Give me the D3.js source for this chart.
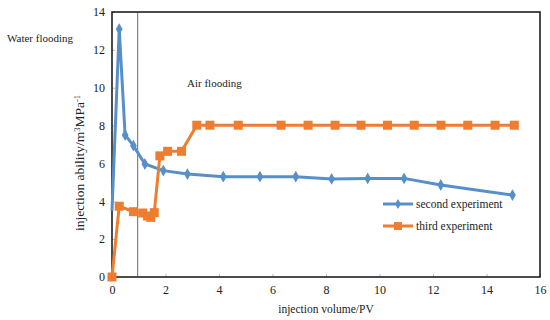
<!DOCTYPE html>
<html>
<head>
<meta charset="utf-8">
<script src="https://cdn.jsdelivr.net/npm/d3@7"></script>
<style>
  body { margin: 0; background: #fff; }
  svg { font-family: "Liberation Serif", "Times New Roman", serif; }
</style>
</head>
<body>
<svg width="550" height="320"></svg>
<script>
// series
var secondX = [0, 0.27, 0.49, 0.8, 1.23, 1.92, 2.82, 4.16, 5.53, 6.87, 8.21, 9.56, 10.92, 12.29, 14.97];
var secondY = [3.5, 13.1, 7.5, 6.94, 5.97, 5.62, 5.44, 5.3, 5.3, 5.3, 5.18, 5.21, 5.21, 4.86, 4.33];
var thirdX = [0, 0.27, 0.8, 1.15, 1.33, 1.45, 1.58, 1.79, 2.08, 2.6, 3.17, 3.66, 4.72, 6.32, 7.33, 8.34, 9.31, 10.3, 11.3, 12.3, 13.3, 14.32, 15.04];
var thirdY = [0, 3.74, 3.45, 3.38, 3.22, 3.15, 3.4, 6.4, 6.64, 6.64, 8.02, 8.02, 8.02, 8.02, 8.02, 8.02, 8.02, 8.02, 8.02, 8.02, 8.02, 8.02, 8.02];
var xTicks = [0, 2, 4, 6, 8, 10, 12, 14, 16];
var yTicks = [0, 2, 4, 6, 8, 10, 12, 14];
var seriesNames = ["second experiment", "third experiment"];
var boundaryX = 0.96;

var margin = {top: 12, right: 10, bottom: 43, left: 112},
    width = 540 - margin.left,
    height = 277 - margin.top;

var blue = "#5790c8", orange = "#ed7d31";

var svg = d3.select("svg");
var g = svg.append("g")
    .attr("transform", "translate(" + margin.left + "," + margin.top + ")");

var x = d3.scaleLinear().domain([0, 16]).range([0, width]);
var y = d3.scaleLinear().domain([0, 14]).range([height, 0]);

// axes with small inside ticks
var xAxis = d3.axisBottom(x).tickValues(xTicks).tickSizeInner(-3).tickSizeOuter(0).tickPadding(8);
var yAxis = d3.axisLeft(y).tickValues(yTicks).tickSizeInner(-3).tickSizeOuter(0).tickPadding(7);

g.append("g")
    .attr("transform", "translate(0," + height + ")")
    .call(xAxis)
    .call(function(s) {
        s.select(".domain").remove();
        s.selectAll(".tick line").attr("stroke", "#bbb");
        s.selectAll("text").attr("font-size", 12).attr("font-family", "Liberation Serif").attr("fill", "#222");
    });

g.append("g")
    .call(yAxis)
    .call(function(s) {
        s.select(".domain").remove();
        s.selectAll(".tick line").attr("stroke", "#bbb");
        s.selectAll("text").attr("font-size", 12).attr("font-family", "Liberation Serif").attr("fill", "#222");
    });

// frame
g.append("rect")
    .attr("x", 0).attr("y", 0)
    .attr("width", width).attr("height", height)
    .attr("fill", "none")
    .attr("stroke", "#111")
    .attr("stroke-width", 1.5);

// water/air boundary
g.append("line")
    .attr("x1", x(boundaryX)).attr("x2", x(boundaryX))
    .attr("y1", 0).attr("y2", height)
    .attr("stroke", "#444")
    .attr("stroke-width", 0.8);

var secondData = secondX.map(function(d, i) { return {x: d, y: secondY[i]}; });
var thirdData = thirdX.map(function(d, i) { return {x: d, y: thirdY[i]}; });

var line = d3.line().x(function(d) { return x(d.x); }).y(function(d) { return y(d.y); });

g.append("path")
    .datum(secondData)
    .attr("d", line)
    .attr("fill", "none")
    .attr("stroke", blue)
    .attr("stroke-width", 3);

g.append("path")
    .datum(thirdData)
    .attr("d", line)
    .attr("fill", "none")
    .attr("stroke", orange)
    .attr("stroke-width", 3);

var diamond = d3.symbol().type(d3.symbolDiamond).size(40);

g.selectAll(".dmark")
    .data(secondData.slice(1))
    .enter().append("path")
    .attr("class", "dmark")
    .attr("d", diamond)
    .attr("transform", function(d) { return "translate(" + x(d.x) + "," + y(d.y) + ")"; })
    .attr("fill", blue);

g.selectAll(".smark")
    .data(thirdData)
    .enter().append("rect")
    .attr("class", "smark")
    .attr("x", function(d) { return x(d.x) - 4.5; })
    .attr("y", function(d) { return y(d.y) - 4.5; })
    .attr("width", 9).attr("height", 9)
    .attr("fill", orange);

// legend
var legend = g.append("g").attr("transform", "translate(" + (383 - margin.left) + "," + (204 - margin.top) + ")");
[blue, orange].forEach(function(c, i) {
    var row = legend.append("g").attr("transform", "translate(0," + (i * 22) + ")");
    row.append("line")
        .attr("x1", 0).attr("x2", 30)
        .attr("stroke", c).attr("stroke-width", 3);
    if (i === 0) {
        row.append("path").attr("d", d3.symbol().type(d3.symbolDiamond).size(30)).attr("transform", "translate(15,0)").attr("fill", c);
    } else {
        row.append("rect").attr("x", 11).attr("y", -4).attr("width", 8).attr("height", 8).attr("fill", c);
    }
    row.append("text")
        .attr("x", 33).attr("y", 4)
        .attr("font-size", 11.5)
        .attr("fill", "#222")
        .text(seriesNames[i]);
});

// annotations
svg.append("text")
    .attr("x", 7).attr("y", 42)
    .attr("font-size", 11)
    .attr("fill", "#222")
    .text("Water flooding");

svg.append("text")
    .attr("x", 187).attr("y", 87)
    .attr("font-size", 11)
    .attr("fill", "#222")
    .text("Air flooding");

// axis titles
svg.append("text")
    .attr("x", 326).attr("y", 313)
    .attr("text-anchor", "middle")
    .attr("font-size", 11.5)
    .attr("fill", "#222")
    .text("injection volume/PV");

var yt = svg.append("text")
    .attr("transform", "translate(84,163) rotate(-90)")
    .attr("text-anchor", "middle")
    .attr("font-size", 13.5)
    .attr("fill", "#222");
yt.append("tspan").text("injection ability/m");
yt.append("tspan").attr("dy", -4).attr("font-size", 8.5).text("3");
yt.append("tspan").attr("dy", 4).text("MPa");
yt.append("tspan").attr("dy", -4).attr("font-size", 8.5).text("-1");
</script>
</body>
</html>
